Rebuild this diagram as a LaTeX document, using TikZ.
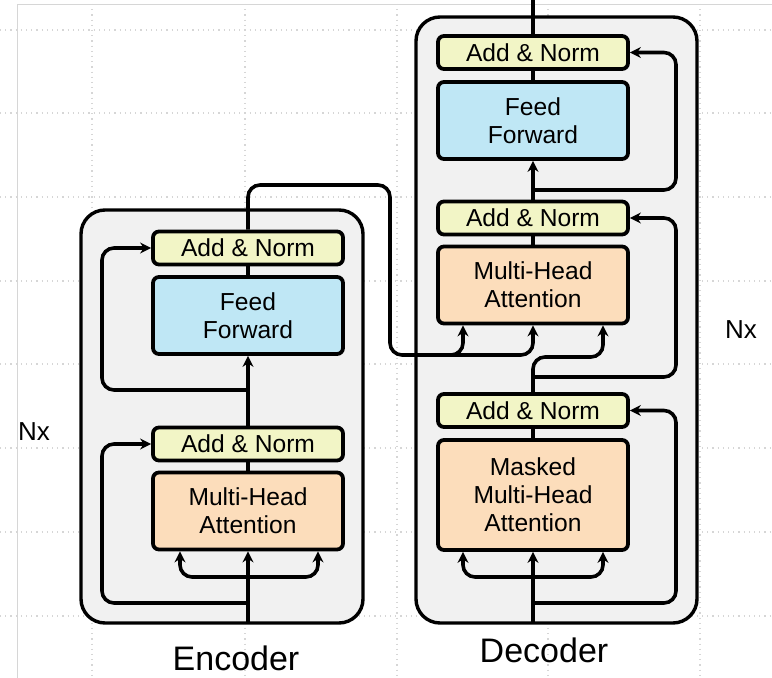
\documentclass[tikz,border=0pt]{standalone}
\usepackage{fontspec}
\setmainfont{Liberation Sans}
\usetikzlibrary{arrows.meta}

\definecolor{normfill}{HTML}{F2F5C6}
\definecolor{ffwdfill}{HTML}{BFE7F5}
\definecolor{attnfill}{HTML}{FCDDBB}
\definecolor{layerfill}{HTML}{F1F1F1}
\definecolor{gridgray}{HTML}{D6D6D6}

\begin{document}
\begin{tikzpicture}[x=0.5pt, y=-0.5pt,
  block/.style={draw, line width=1.9pt, rounded corners=3pt, minimum width=95pt, align=center, inner sep=0pt, font=\fontsize{12.3}{14}\selectfont},
  addnorm/.style={block, fill=normfill, minimum height=16.5pt},
  ffwd/.style={block, fill=ffwdfill, minimum height=38.5pt},
  attn/.style={block, fill=attnfill, minimum height=38.5pt},
  layer/.style={draw, line width=1.7pt, rounded corners=12pt, fill=layerfill},
  conn/.style={line width=1.8pt, rounded corners=6pt},
  arr/.style={conn, -{Stealth[length=5.5pt,width=5.5pt]}},
  ]
\useasboundingbox (0,0) rectangle (772,678);

% background grid
\draw[gridgray, line width=0.4pt] (17,678) -- (17,4) -- (772,4);
\foreach \gx in {92,245,397,548,700}
  \draw[gridgray, dotted, line width=0.6pt] (\gx,4) -- (\gx,678);
\foreach \gy in {30,113,197,281,364,448,532,616}
  \draw[gridgray, dotted, line width=0.6pt] (0,\gy) -- (772,\gy);

% layers
\draw[layer] (81,210) rectangle (363,623);
\draw[layer] (416,17) rectangle (697,623);

% encoder
\node[addnorm] (enc_an1) at (248,248) {Add \& Norm};
\node[ffwd] (enc_ff) at (248,315.5) {Feed\\Forward};
\node[addnorm] (enc_an2) at (248,444) {Add \& Norm};
\node[attn] (enc_mha) at (248,511) {Multi-Head\\Attention};

% decoder
\node[addnorm] (dec_an1) at (533,52.5) {Add \& Norm};
\node[ffwd] (dec_ff) at (533,120.5) {Feed\\Forward};
\node[addnorm] (dec_an2) at (533,218) {Add \& Norm};
\node[attn] (dec_mha) at (533,285) {Multi-Head\\Attention};
\node[addnorm] (dec_an3) at (533,410.5) {Add \& Norm};
\node[attn, minimum height=55pt] (dec_mmha) at (533,495) {Masked\\Multi-Head\\Attention};

% labels
\node[font=\fontsize{13}{15}\selectfont] (enc_nx) at (34,432) {Nx};
\node[font=\fontsize{13}{15}\selectfont] (dec_nx) at (741,330) {Nx};
\node[font=\fontsize{17}{20}\selectfont] (enc_lbl) at (236,658) {Encoder};
\node[font=\fontsize{17}{20}\selectfont] (dec_lbl) at (544,650) {Decoder};

% free ends and bends
\coordinate (enc_in) at (248,623);
\coordinate (enc_split) at (248,577);
\coordinate (enc_kx) at (180,0);
\coordinate (enc_vx) at (318,0);
\coordinate (enc_res1) at (248,603);
\coordinate (enc_res2) at (248,390);
\coordinate (enc_rx) at (102,0);
\coordinate (enc_bend) at (390,185);
\coordinate (dec_in) at (533,623);
\coordinate (dec_out) at (533,0);
\coordinate (dec_split) at (533,577);
\coordinate (dec_kx) at (463,0);
\coordinate (dec_vx) at (603,0);
\coordinate (dec_res1) at (533,603);
\coordinate (dec_res2) at (533,377);
\coordinate (dec_res3) at (533,190);
\coordinate (dec_rx) at (676,0);
\coordinate (dec_k) at (463,355);
\coordinate (dec_v) at (533,355);
\coordinate (dec_q) at (603,357);

% encoder connectors
\draw[arr] (enc_in) -- (enc_mha.south);
\draw[arr] (enc_split) -| (enc_mha.south -| enc_kx);
\draw[arr] (enc_split) -| (enc_mha.south -| enc_vx);
\draw[conn] (enc_mha) -- (enc_an2);
\draw[arr] (enc_res1) -| (enc_an2.west -| enc_rx) -- (enc_an2.west);
\draw[arr] (enc_an2) -- (enc_ff);
\draw[arr] (enc_res2) -| (enc_an1.west -| enc_rx) -- (enc_an1.west);
\draw[conn] (enc_ff) -- (enc_an1);

% encoder to decoder
\draw[arr] (enc_an1.north) |- (enc_bend) |- (dec_k) -- (dec_mha.south -| dec_k);
\draw[arr] ([xshift=-8pt]dec_k) -| (dec_mha.south -| dec_v);

% decoder connectors
\draw[arr] (dec_in) -- (dec_mmha.south);
\draw[arr] (dec_split) -| (dec_mmha.south -| dec_kx);
\draw[arr] (dec_split) -| (dec_mmha.south -| dec_vx);
\draw[conn] (dec_mmha) -- (dec_an3);
\draw[arr] (dec_res1) -| (dec_an3.east -| dec_rx) -- (dec_an3.east);
\draw[arr] (dec_an3.north) |- (dec_q) -- (dec_mha.south -| dec_q);
\draw[arr] (dec_res2) -| (dec_an2.east -| dec_rx) -- (dec_an2.east);
\draw[conn] (dec_mha) -- (dec_an2);
\draw[arr] (dec_an2) -- (dec_ff);
\draw[arr] (dec_res3) -| (dec_an1.east -| dec_rx) -- (dec_an1.east);
\draw[conn] (dec_ff) -- (dec_an1);
\draw[conn] (dec_an1) -- (dec_out);

\end{tikzpicture}
\end{document}
